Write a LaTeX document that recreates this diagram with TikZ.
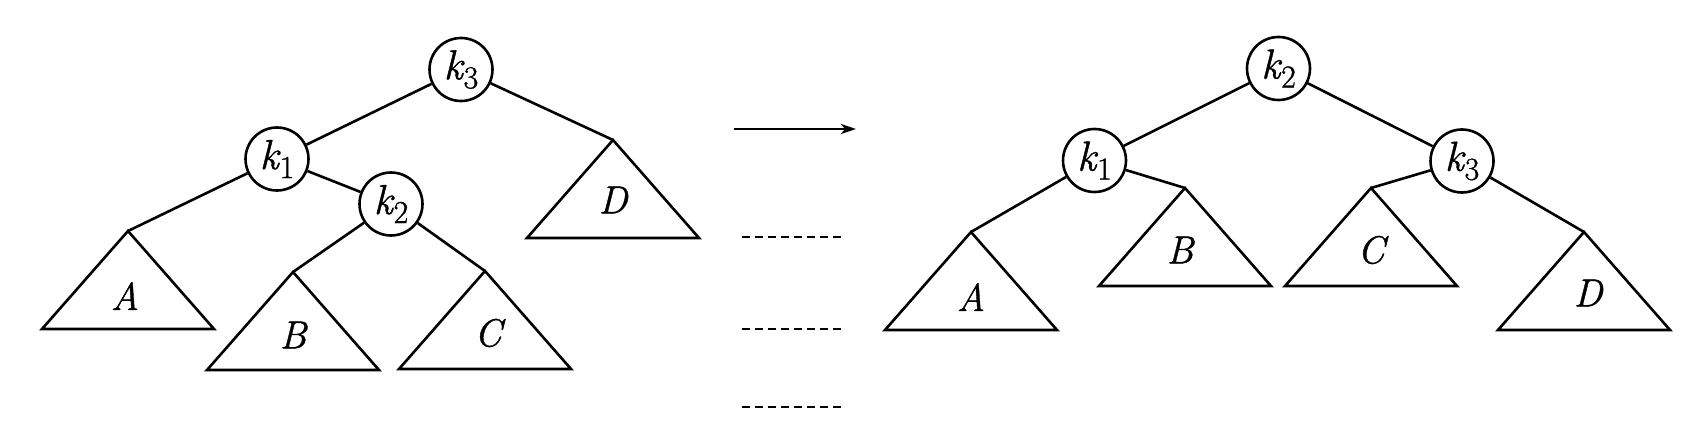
\documentclass[tikz,border=0pt]{standalone}
\usepackage{fontspec}
\setmainfont{Latin Modern Roman}[FakeBold=1]
\usetikzlibrary{arrows.meta}
\newcommand{\kk}[1]{{\itshape k}\kern1pt\raisebox{-9pt}{\fontsize{32}{32}\selectfont #1}}
\begin{document}
\begin{tikzpicture}[x=1pt,y=-1pt,line width=2.6pt,
  knode/.style={circle,draw,minimum size=63pt,inner sep=0pt,font=\fontsize{42}{42}\selectfont},
  lab/.style={font=\fontsize{39}{39}\selectfont\itshape,inner sep=0pt},
  edge/.style={line width=2.6pt},
  dashline/.style={line width=2.6pt,dash pattern=on 8pt off 5pt}]
\useasboundingbox (0,0) rectangle (1683,433);
\fill[white] (0,0) rectangle (1683,433);
% ---------- left tree ----------
\node[knode] (lk3) at (461,69.5) {\kk{3}};
\node[knode] (lk1) at (277,159) {\kk{1}};
\node[knode] (lk2) at (391,204) {\kk{2}};
\coordinate (lA) at (128,231);
\coordinate (lB) at (293,272);
\coordinate (lC) at (485,271);
\coordinate (lD) at (613,140);
\foreach \t in {lA,lB,lC,lD}{
  \draw[line join=miter] (\t) -- ++(-86,98) -- ++(172,0) -- cycle;
}
\node[lab] (lAl) at ([xshift=-3pt,yshift=-65pt]lA) {A};
\node[lab] (lBl) at ([yshift=-63pt]lB) {B};
\node[lab] (lCl) at ([xshift=3pt,yshift=-62pt]lC) {C};
\node[lab] (lDl) at ([yshift=-60pt]lD) {D};
\draw[edge] (lk3) -- (lk1);
\draw[edge] (lk3) -- (lD);
\draw[edge] (lk1) -- (lA);
\draw[edge] (lk1) -- (lk2);
\draw[edge] (lk2) -- (lB);
\draw[edge] (lk2) -- (lC);
% ---------- middle ----------
\coordinate (a1) at (734,129);
\coordinate (a2) at (856,129);
\draw[line width=2.4pt,-{Stealth[length=15pt,width=10pt,inset=4pt]}] (a1) -- (a2);
\coordinate (d1a) at (742,237); \coordinate (d1b) at (842,237);
\coordinate (d2a) at (742,329); \coordinate (d2b) at (842,329);
\coordinate (d3a) at (742,407); \coordinate (d3b) at (842,407);
\draw[dashline] (d1a) -- (d1b);
\draw[dashline] (d2a) -- (d2b);
\draw[dashline] (d3a) -- (d3b);
% ---------- right tree ----------
\node[knode] (rk2) at (1278.5,68.5) {\kk{2}};
\node[knode] (rk1) at (1094.5,160.5) {\kk{1}};
\node[knode] (rk3) at (1462,161) {\kk{3}};
\coordinate (rA) at (971,232);
\coordinate (rB) at (1185,188);
\coordinate (rC) at (1371,188);
\coordinate (rD) at (1584,232);
\foreach \t in {rA,rB,rC,rD}{
  \draw[line join=miter] (\t) -- ++(-86,98) -- ++(172,0) -- cycle;
}
\node[lab] (rAl) at ([yshift=-65pt]rA) {A};
\node[lab] (rBl) at ([xshift=-5pt,yshift=-62pt]rB) {B};
\node[lab] (rCl) at ([yshift=-62pt]rC) {C};
\node[lab] (rDl) at ([xshift=4pt,yshift=-61pt]rD) {D};
\draw[edge] (rk2) -- (rk1);
\draw[edge] (rk2) -- (rk3);
\draw[edge] (rk1) -- (rA);
\draw[edge] (rk1) -- (rB);
\draw[edge] (rk3) -- (rC);
\draw[edge] (rk3) -- (rD);
\end{tikzpicture}
\end{document}
